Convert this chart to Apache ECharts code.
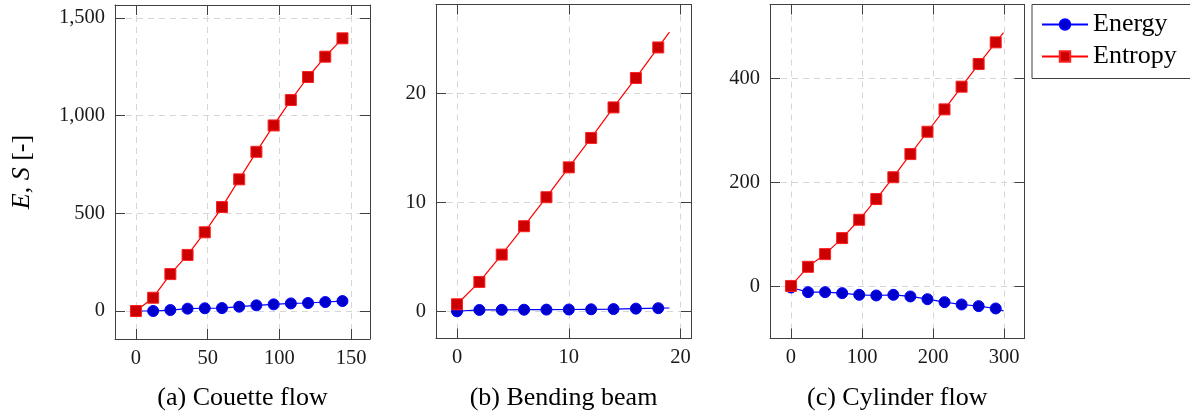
<!DOCTYPE html>
<html>
<head>
<meta charset="utf-8">
<script src="https://cdn.jsdelivr.net/npm/echarts@6/dist/echarts.min.js"></script>
<style>
  html, body { margin: 0; padding: 0; background: #fff; }
  #chart { width: 1190px; height: 415px; }
</style>
</head>
<body>
<div id="chart"></div>
<script>
// (a) Couette flow
const couetteX = [0, 12, 24, 36, 48, 60, 72, 84, 96, 108, 120, 132, 144];
const couetteEnergy = [0, 0, 5, 12, 14, 15, 22, 29, 34, 39, 41, 46, 51];
const couetteEntropy = [0, 68, 189, 287, 403, 532, 674, 815, 950, 1080, 1198, 1302, 1396];
const couetteXTicks = [0, 50, 100, 150];
const couetteYTicks = [0, 500, 1000, 1500];

// (b) Bending beam
const beamX = [0, 2, 4, 6, 8, 10, 12, 14, 16, 18, 19];
const beamEnergy = [0, 0.12, 0.13, 0.14, 0.15, 0.16, 0.18, 0.2, 0.24, 0.28, 0.3];
const beamEntropy = [0.64, 2.69, 5.2, 7.8, 10.46, 13.2, 15.9, 18.7, 21.4, 24.2, 25.6];
const beamXTicks = [0, 10, 20];
const beamYTicks = [0, 10, 20];

// (c) Cylinder flow
const cylX = [0, 24, 48, 72, 96, 120, 144, 168, 192, 216, 240, 264, 288, 299];
const cylEnergy = [-2, -10.9, -10.9, -12.8, -16, -17.3, -16, -19.2, -24.4, -30.1, -34.6, -37.8, -42.3, -46.8];
const cylEntropy = [1, 37.8, 62.2, 93, 128.2, 168, 210, 254.5, 297.4, 340.4, 384, 427.6, 469.2, 488];
const cylXTicks = [0, 100, 200, 300];
const cylYTicks = [0, 200, 400];

const captions = ['(a) Couette flow', '(b) Bending beam', '(c) Cylinder flow'];

const SERIF = 'Liberation Serif';
const FRAME = '#404040';

const panels = [
  { x: couetteX, e: couetteEnergy, s: couetteEntropy, xt: couetteXTicks, yt: couetteYTicks, step: 12,
    grid: { left: 115, top: 5, width: 255, height: 334 }, xr: [-14.6, 163.2], yr: [-143.3, 1566.6] },
  { x: beamX, e: beamEnergy, s: beamEntropy, xt: beamXTicks, yt: beamYTicks, step: 2,
    grid: { left: 436, top: 4.5, width: 255, height: 334 }, xr: [-1.88, 20.93], yr: [-2.5, 28.14] },
  { x: cylX, e: cylEnergy, s: cylEntropy, xt: cylXTicks, yt: cylYTicks, step: 24,
    grid: { left: 770, top: 4.5, width: 254.5, height: 334 }, xr: [-29.5, 328.5], yr: [-100, 542] }
];

const fmt = v => v.toLocaleString('en-US');

// Bottom/left axis carries labels and dashed grid; top/right axis only closes the frame with inward ticks
function axisPair(gi, range, ticks, isX) {
  const main = {
    gridIndex: gi, type: 'value', min: range[0], max: range[1],
    position: isX ? 'bottom' : 'left',
    axisLine: { show: true, onZero: false, lineStyle: { color: FRAME, width: 1 } },
    axisTick: { show: true, inside: true, length: 10, customValues: ticks, lineStyle: { color: FRAME, width: 1 } },
    axisLabel: { show: true, customValues: ticks, formatter: fmt, margin: isX ? 9 : 10,
                 fontFamily: SERIF, fontSize: 20.5, color: '#1a1a1a' },
    splitLine: { show: true, lineStyle: { color: '#d6d6d6', width: 1, type: [6, 5] } }
  };
  const opp = {
    gridIndex: gi, type: 'value', min: range[0], max: range[1],
    position: isX ? 'top' : 'right',
    axisLine: { show: true, onZero: false, lineStyle: { color: FRAME, width: 1 } },
    axisTick: { show: true, inside: true, length: 10, customValues: ticks, lineStyle: { color: FRAME, width: 1 } },
    axisLabel: { show: false },
    splitLine: { show: false }
  };
  return [main, opp];
}

const grids = [], xAxes = [], yAxes = [], series = [], graphics = [];

panels.forEach((p, i) => {
  grids.push(Object.assign({ containLabel: false }, p.grid));
  xAxes.push(...axisPair(i, p.xr, p.xt, true));
  yAxes.push(...axisPair(i, p.yr, p.yt, false));

  // markers only on every step-th sample; trailing samples are drawn as line only
  const pts = vals => p.x.map((x, k) => (x % p.step === 0)
    ? [x, vals[k]]
    : { value: [x, vals[k]], symbol: 'none' });

  series.push({
    name: 'Energy', type: 'line', xAxisIndex: 2 * i, yAxisIndex: 2 * i,
    data: pts(p.e), symbol: 'circle', symbolSize: 11,
    lineStyle: { color: '#0000ff', width: 1.2 },
    itemStyle: { color: '#0000cc', borderColor: '#0000ff', borderWidth: 1 },
    emphasis: { disabled: true }
  });
  series.push({
    name: 'Entropy', type: 'line', xAxisIndex: 2 * i, yAxisIndex: 2 * i,
    data: pts(p.s), symbol: 'rect', symbolSize: 11,
    lineStyle: { color: '#ff0000', width: 1.2 },
    itemStyle: { color: '#cc0000', borderColor: '#ff2020', borderWidth: 1 },
    emphasis: { disabled: true }
  });

  // caption under each panel, centred on the plot area
  graphics.push({
    type: 'text', x: p.grid.left + p.grid.width / 2, y: 398,
    style: { text: captions[i], font: '26px "Liberation Serif"', fill: '#000',
             textAlign: 'center', textVerticalAlign: 'middle' }
  });
});

// Y axis title on the first panel
yAxes[0].name = '{i|E}, {i|S} [-]';
yAxes[0].nameLocation = 'middle';
yAxes[0].nameGap = 80;
yAxes[0].nameTextStyle = {
  fontFamily: SERIF, fontSize: 26, color: '#000',
  rich: { i: { fontFamily: SERIF, fontSize: 26, fontStyle: 'italic', color: '#000' } }
};

const chart = echarts.init(document.getElementById('chart'), null, { renderer: 'canvas' });
chart.setOption({
  animation: false,
  backgroundColor: '#fff',
  grid: grids,
  xAxis: xAxes,
  yAxis: yAxes,
  series: series,
  legend: {
    data: ['Energy', 'Entropy'],
    orient: 'vertical', left: 1032, top: 4.5,
    padding: [7, 30, 9, 9], itemGap: 6,
    itemWidth: 46, itemHeight: 13,
    borderColor: FRAME, borderWidth: 1,
    textStyle: { fontFamily: SERIF, fontSize: 26, color: '#000' },
    selectedMode: false
  },
  graphic: graphics
});
</script>
</body>
</html>
